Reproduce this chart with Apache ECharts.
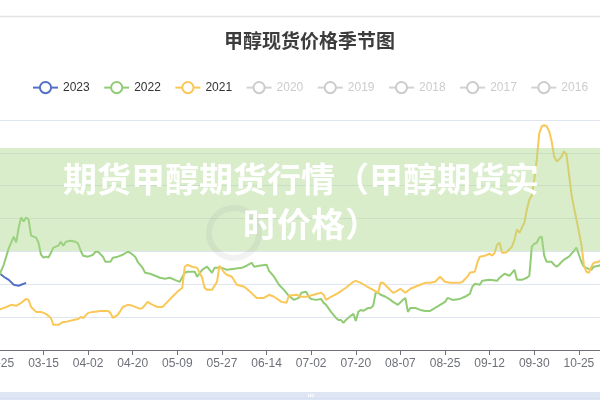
<!DOCTYPE html>
<html><head><meta charset="utf-8">
<script src="https://cdn.jsdelivr.net/npm/echarts@6/dist/echarts.min.js"></script>
<style>html,body{margin:0;padding:0;background:#fff;overflow:hidden;width:600px;height:400px;position:relative}#c{position:absolute;left:-300px;top:0;width:1200px;height:400px}</style>
</head><body><div id="c"></div>
<script>
const chartTitle = '甲醇现货价格季节图';
const bannerLines = ['期货甲醇期货行情（甲醇期货实', '时价格）'];
const years = ['2023', '2022', '2021', '2020', '2019', '2018', '2017', '2016'];
const hiddenYears = ['2020', '2019', '2018', '2017', '2016'];
const yearColors = ['#5470c6', '#91cc75', '#fac858', '#ee6666', '#73c0de', '#3ba272', '#fc8452', '#9a60b4'];
const skipDates = ['05-01', '10-01', '10-02', '10-03', '10-04', '10-05', '10-06', '10-07'];

const s2023 = [['02-24',2276],['02-25',2270],['02-27',2246],['03-01',2227],['03-03',2197],['03-05',2191],['03-06',2197],['03-08',2209]];

const s2022 = [['02-24',2225],['02-25',2250],['02-27',2320],['03-01',2420],['03-03',2490],['03-04',2455],['03-05',2545],['03-06',2606],['03-07',2582],['03-08',2606],['03-09',2594],['03-10',2496],['03-12',2484],['03-13',2453],['03-14',2380],['03-15',2362],['03-16',2368],['03-17',2362],['03-18',2392],['03-19',2423],['03-21',2435],['03-22',2459],['03-23',2435],['03-24',2459],['03-26',2465],['03-28',2459],['03-29',2447],['03-30',2404],['03-31',2374],['04-02',2368],['04-04',2380],['04-05',2398],['04-06',2398],['04-08',2368],['04-09',2337],['04-11',2337],['04-12',2362],['04-14',2368],['04-16',2380],['04-18',2398],['04-19',2392],['04-21',2368],['04-22',2337],['04-24',2300],['04-25',2270],['04-27',2264],['04-29',2252],['05-02',2240],['05-04',2234],['05-06',2240],['05-08',2227],['05-10',2215],['05-12',2270],['05-13',2276],['05-16',2276],['05-17',2246],['05-19',2288],['05-21',2307],['05-23',2270],['05-24',2300],['05-27',2300],['05-29',2288],['06-01',2295],['06-04',2300],['06-06',2313],['06-08',2331],['06-09',2307],['06-11',2313],['06-14',2319],['06-15',2282],['06-17',2246],['06-19',2197],['06-21',2166],['06-23',2130],['06-25',2105],['06-27',2117],['06-28',2148],['06-30',2154],['07-01',2124],['07-02',2111],['07-04',2105],['07-06',2111],['07-07',2087],['07-08',2075],['07-10',2032],['07-12',1995],['07-13',1983],['07-14',1983],['07-15',1965],['07-16',1983],['07-18',2008],['07-19',2020],['07-20',1977],['07-21',2032],['07-22',2044],['07-23',2038],['07-25',2056],['07-26',2056],['07-27',2069],['07-28',2148],['07-29',2148],['07-30',2136],['08-01',2124],['08-03',2105],['08-04',2093],['08-06',2075],['08-08',2105],['08-09',2117],['08-10',2032],['08-11',2056],['08-13',2056],['08-15',2044],['08-17',2038],['08-19',2038],['08-21',2056],['08-23',2075],['08-25',2093],['08-26',2117],['08-28',2105],['08-31',2111],['09-02',2124],['09-04',2142],['09-05',2185],['09-06',2203],['09-08',2197],['09-09',2221],['09-12',2227],['09-15',2221],['09-16',2240],['09-18',2264],['09-20',2252],['09-21',2270],['09-22',2288],['09-23',2227],['09-25',2227],['09-27',2240],['09-28',2252],['09-29',2429],['09-30',2447],['10-08',2453],['10-09',2484],['10-10',2490],['10-11',2374],['10-12',2337],['10-14',2337],['10-15',2319],['10-16',2307],['10-17',2319],['10-18',2337],['10-19',2350],['10-21',2368],['10-23',2404],['10-24',2423],['10-25',2380],['10-26',2337],['10-27',2307],['10-28',2300],['10-30',2288],['10-31',2307],['11-02',2313],['11-03',2319]];

const s2021 = [['02-24',2038],['02-25',2044],['02-27',2056],['02-28',2062],['03-02',2075],['03-04',2069],['03-06',2087],['03-08',2111],['03-09',2105],['03-10',2062],['03-12',2032],['03-14',2032],['03-16',2020],['03-18',1995],['03-19',1953],['03-21',1953],['03-23',1971],['03-24',1971],['03-27',1983],['03-29',1989],['03-30',2001],['03-31',1995],['04-02',2026],['04-04',2032],['04-07',2038],['04-10',2038],['04-11',2026],['04-12',1995],['04-14',2014],['04-16',2062],['04-18',2075],['04-20',2069],['04-23',2050],['04-24',2056],['04-26',2093],['04-28',2075],['04-30',2062],['05-03',2062],['05-05',2093],['05-07',2124],['05-09',2154],['05-11',2179],['05-12',2307],['05-13',2319],['05-15',2307],['05-17',2300],['05-19',2240],['05-20',2179],['05-21',2166],['05-23',2166],['05-25',2215],['05-26',2313],['05-28',2270],['05-29',2258],['05-31',2246],['06-02',2197],['06-05',2185],['06-07',2160],['06-10',2117],['06-13',2117],['06-15',2136],['06-17',2124],['06-20',2093],['06-22',2087],['06-23',2130],['06-26',2136],['06-28',2124],['06-30',2124],['07-03',2136],['07-06',2148],['07-07',2136],['07-08',2105],['07-10',2124],['07-13',2148],['07-16',2179],['07-19',2215],['07-20',2221],['07-22',2209],['07-24',2191],['07-27',2166],['07-29',2148],['07-30',2209],['07-31',2209],['08-02',2179],['08-04',2148],['08-05',2154],['08-07',2173],['08-09',2148],['08-11',2173],['08-13',2185],['08-15',2197],['08-17',2209],['08-19',2209],['08-21',2215],['08-23',2246],['08-25',2215],['08-27',2209],['08-31',2209],['09-01',2215],['09-03',2246],['09-04',2270],['09-06',2276],['09-07',2331],['09-08',2368],['09-10',2374],['09-12',2386],['09-13',2374],['09-14',2392],['09-15',2441],['09-16',2453],['09-17',2392],['09-18',2392],['09-19',2398],['09-21',2429],['09-22',2472],['09-23',2533],['09-24',2514],['09-26',2575],['09-27',2655],['09-28',2716],['09-29',2740],['09-30',2838],['10-08',2960],['10-09',3119],['10-10',3162],['10-11',3168],['10-12',3162],['10-13',3131],['10-14',3070],['10-15',2978],['10-16',2948],['10-17',2960],['10-18',2978],['10-19',3009],['10-20',2990],['10-21',2869],['10-22',2746],['10-23',2667],['10-24',2594],['10-25',2520],['10-26',2441],['10-27',2319],['10-28',2276],['10-29',2270],['10-30',2307],['10-31',2331],['11-02',2337],['11-03',2350]];

const yMin = 1800, yMax = 3200, yStep = 200;
const labelEvery = 18;

function buildCategories() {
  const out = [];
  const d = new Date(Date.UTC(2021, 0, 2));
  while (d.getUTCFullYear() === 2021) {
    const s = String(d.getUTCMonth() + 1).padStart(2, '0') + '-' + String(d.getUTCDate()).padStart(2, '0');
    if (!skipDates.includes(s)) out.push(s);
    d.setUTCDate(d.getUTCDate() + 1);
  }
  return out;
}
const categories = buildCategories();

const seriesData = { '2023': s2023, '2022': s2022, '2021': s2021 };
const selected = {};
hiddenYears.forEach(y => selected[y] = false);

// the chart canvas is wider than the window and shifted 300px left (cropped view)
const OFF = 300;
const chart = echarts.init(document.getElementById('c'), null, { renderer: 'canvas' });
chart.setOption({
  animation: false,
  color: yearColors,
  textStyle: { fontFamily: '"Liberation Sans", Arial, "Noto Sans CJK SC", sans-serif' },
  title: {
    text: chartTitle, left: OFF + 219, top: 26,
    textStyle: { fontSize: 19, fontWeight: 'bold', color: '#3c3c3c', fontFamily: '"Noto Sans CJK SC", sans-serif' }
  },
  legend: {
    data: years, left: OFF + 27, top: 76, itemGap: 13.5, itemWidth: 25, itemHeight: 14,
    selected: selected, inactiveColor: '#ccc',
    textStyle: { fontSize: 12, color: '#333' }
  },
  grid: { left: OFF - 135, width: 880, top: 120, height: 230, outerBoundsMode: 'none' },
  xAxis: {
    type: 'category', data: categories, boundaryGap: false,
    axisLine: { lineStyle: { color: '#6E7079' } },
    axisTick: { interval: labelEvery - 1, length: 5, lineStyle: { color: '#6E7079' } },
    axisLabel: { interval: labelEvery - 1, color: '#6E7079', fontSize: 12, margin: 8 },
    splitLine: { show: false }
  },
  yAxis: {
    type: 'value', min: yMin, max: yMax, interval: yStep,
    axisLabel: { show: false }, axisLine: { show: false }, axisTick: { show: false },
    splitLine: { lineStyle: { color: '#E0E6F1' } }
  },
  dataZoom: [{
    type: 'slider', xAxisIndex: 0, start: 0, end: 100,
    left: OFF - 135, width: 886, top: 392, height: 30,
    showDataShadow: false, showDetail: false,
    borderColor: '#d2dbee', fillerColor: 'rgba(135,175,274,0.2)',
    backgroundColor: 'rgba(47,69,84,0)',
    moveHandleSize: 7,
    moveHandleStyle: { color: '#D2DBEE', opacity: 0.7 }
  }],
  series: years.map((y, i) => ({
    name: y, type: 'line', data: seriesData[y] || [],
    showSymbol: false, symbol: 'emptyCircle',
    lineStyle: { width: 2, color: yearColors[i] },
    itemStyle: { color: yearColors[i] }
  })),
  graphic: [
    { type: 'line', z: 100, shape: { x1: OFF, y1: 16.5, x2: OFF + 600, y2: 16.5 }, style: { stroke: '#e3e3e3', lineWidth: 1.5 } },
    { type: 'rect', z: 100, shape: { x: OFF, y: 148, width: 600, height: 103 }, style: { fill: 'rgba(170,215,140,0.45)' } },
    { type: 'circle', z: 101, shape: { cx: OFF + 234, cy: 233, r: 25 }, style: { fill: 'none', stroke: 'rgba(140,140,140,0.11)', lineWidth: 6 } },
    { type: 'text', z: 102, x: OFF + 63, y: 179, style: { text: bannerLines[0], fill: '#fff', font: 'bold 34px "Noto Sans CJK SC", sans-serif', textVerticalAlign: 'middle', shadowBlur: 3, shadowColor: 'rgba(0,0,0,0.12)' } },
    { type: 'text', z: 102, x: OFF + 243, y: 224, style: { text: bannerLines[1], fill: '#fff', font: 'bold 34px "Noto Sans CJK SC", sans-serif', textVerticalAlign: 'middle', shadowBlur: 3, shadowColor: 'rgba(0,0,0,0.12)' } }
  ]
});
</script></body></html>
